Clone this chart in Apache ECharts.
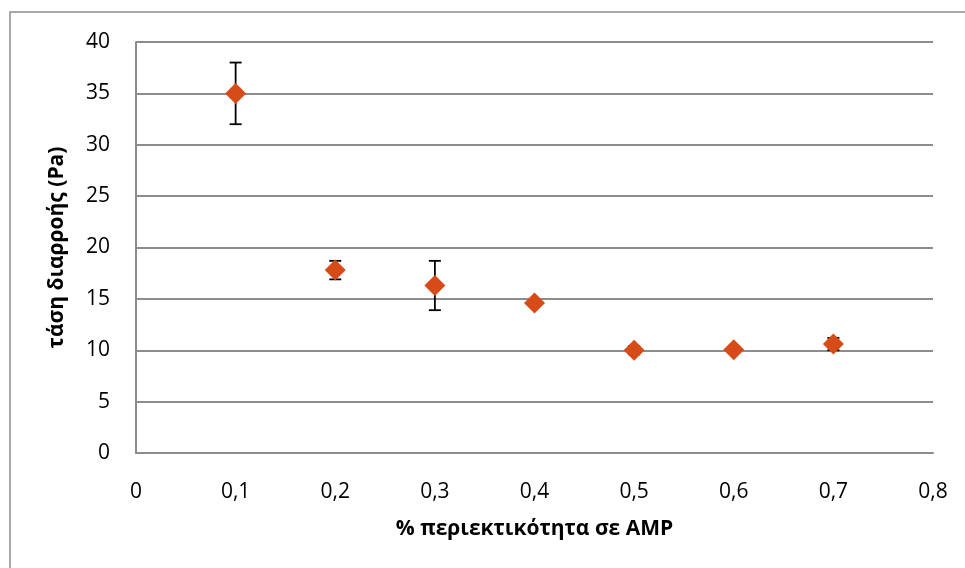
<!DOCTYPE html>
<html>
<head>
<meta charset="utf-8">
<script src="https://cdn.jsdelivr.net/npm/echarts@6/dist/echarts.min.js"></script>
<style>
  html, body { margin: 0; padding: 0; background: #fff; }
  #chart { width: 965px; height: 568px; }
</style>
</head>
<body>
<div id="chart"></div>
<script>
// AMP content (%) and yield stress (Pa), with error bar half-widths
const amp = [0.1, 0.2, 0.3, 0.4, 0.5, 0.6, 0.7];
const stress = [35.0, 17.8, 16.3, 14.6, 10.0, 10.05, 10.6];
const errors = [3.0, 0.9, 2.4, 0.3, 0.4, 0.2, 0.6];

const xTitle = '% περιεκτικότητα σε AMP';
const yTitle = 'τάση διαρροής (Pa)';

const font = '"Open Sans", "Noto Sans", sans-serif';
const gridColor = '#8c8c8c';

const chart = echarts.init(document.getElementById('chart'));

const errData = amp.map((x, i) => [x, stress[i] - errors[i], stress[i] + errors[i]]);

chart.setOption({
  animation: false,
  graphic: [{
    type: 'rect',
    shape: { x: 10, y: 12, width: 1000, height: 600 },
    style: { fill: 'none', stroke: gridColor, lineWidth: 1.5 },
    silent: true
  }],
  grid: { left: 136, top: 42, right: 32, bottom: 115 },
  xAxis: {
    type: 'value',
    min: 0,
    max: 0.8,
    interval: 0.1,
    name: xTitle,
    nameLocation: 'middle',
    nameGap: 66,
    nameTextStyle: { fontFamily: font, fontSize: 21, fontWeight: 'bold', color: '#000' },
    axisLine: { show: true, onZero: false, lineStyle: { color: gridColor, width: 2 } },
    axisTick: { show: false },
    splitLine: { show: false },
    axisLabel: {
      margin: 29,
      fontFamily: font,
      fontSize: 21,
      color: '#000',
      formatter: v => String(+v.toFixed(1)).replace('.', ',')
    }
  },
  yAxis: {
    type: 'value',
    min: 0,
    max: 40,
    interval: 5,
    name: yTitle,
    nameLocation: 'middle',
    nameGap: 68,
    nameTextStyle: { fontFamily: font, fontSize: 21, fontWeight: 'bold', color: '#000' },
    axisLine: { show: true, lineStyle: { color: gridColor, width: 2 } },
    axisTick: { show: false },
    splitLine: { show: true, lineStyle: { color: gridColor, width: 2 } },
    axisLabel: { margin: 26, fontFamily: font, fontSize: 21, color: '#000' }
  },
  series: [
    {
      type: 'custom',
      z: 1,
      data: errData,
      renderItem: (params, api) => {
        const top = api.coord([api.value(0), api.value(2)]);
        const bot = api.coord([api.value(0), api.value(1)]);
        const cap = 6;
        const style = { stroke: '#000', lineWidth: 1.8 };
        return {
          type: 'group',
          children: [
            { type: 'line', shape: { x1: top[0], y1: top[1], x2: bot[0], y2: bot[1] }, style },
            { type: 'line', shape: { x1: top[0] - cap, y1: top[1], x2: top[0] + cap, y2: top[1] }, style },
            { type: 'line', shape: { x1: bot[0] - cap, y1: bot[1], x2: bot[0] + cap, y2: bot[1] }, style }
          ]
        };
      }
    },
    {
      type: 'scatter',
      z: 3,
      symbol: 'diamond',
      symbolSize: [21, 21],
      itemStyle: { color: '#d64b17', opacity: 1 },
      data: amp.map((x, i) => [x, stress[i]])
    }
  ]
});
</script>
</body>
</html>
